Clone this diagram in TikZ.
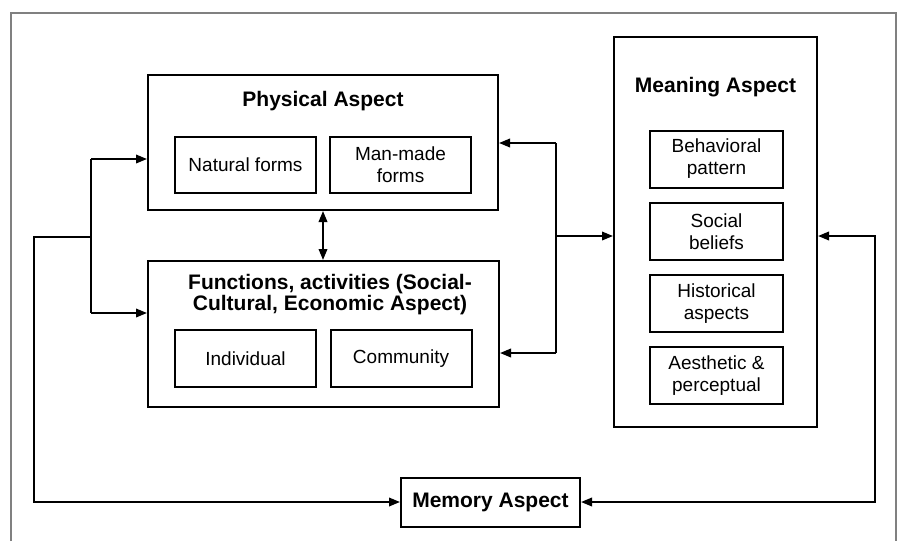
\documentclass[tikz,border=0pt]{standalone}
\usepackage{fontspec}
\setmainfont{Liberation Sans}
\usetikzlibrary{arrows.meta}
\begin{document}
\begin{tikzpicture}[x=1pt,y=-1pt,
  box/.style={draw, line width=2pt, inner sep=0pt},
  subbox/.style={box, font=\fontsize{19}{22}\selectfont, align=center},
  ttl/.style={font=\fontsize{21}{21}\selectfont\bfseries, align=center, inner sep=0pt},
  conn/.style={line width=2pt},
  arr/.style={conn, -{Triangle[length=11pt,width=8.5pt]}},
  darr/.style={conn, {Triangle[length=11pt,width=8.5pt]}-{Triangle[length=11pt,width=8.5pt]}}
]
\useasboundingbox (0,0) rectangle (901,541);
% outer frame
\draw[line width=1.4pt, color=black!50] (11,541) -- (11,13) -- (896,13) -- (896,541);

% Physical aspect
\node[box, minimum width=350pt, minimum height=135pt] (phys) at (323,142.5) {};
\node[ttl] (physT) at (323,101) {Physical Aspect};
\node[subbox, minimum width=141pt, minimum height=56pt] (nat) at (245.5,165) {Natural forms};
\node[subbox, minimum width=141pt, minimum height=56pt] (man) at (400.5,165) {Man-made\\forms};

% Functions
\node[box, minimum width=351pt, minimum height=146pt] (func) at (323.5,334) {};
\node[ttl] (funcT) at (330,295) {Functions, activities (Social-\\Cultural, Economic Aspect)};
\node[subbox, minimum width=141pt, minimum height=57pt] (ind) at (245.5,358.5) {Individual};
\node[subbox, minimum width=141pt, minimum height=57pt] (com) at (401,358.5) {Community};

% Meaning
\node[box, minimum width=203pt, minimum height=390pt] (mean) at (715.5,232) {};
\node[ttl] (meanT) at (715.5,87) {Meaning Aspect};
\node[subbox, minimum width=133pt, minimum height=57pt] (beh) at (716.5,159) {Behavioral\\pattern};
\node[subbox, minimum width=133pt, minimum height=57pt] (soc) at (716.5,231.5) {Social\\beliefs};
\node[subbox, minimum width=133pt, minimum height=57pt] (his) at (716.5,303.5) {Historical\\aspects};
\node[subbox, minimum width=133pt, minimum height=57pt] (aes) at (716.5,375.5) {Aesthetic \&\\perceptual};

% Memory
\node[box, minimum width=179pt, minimum height=49pt, font=\fontsize{21}{21}\selectfont\bfseries] (mem) at (490.5,502) {Memory Aspect};

% connectors left
\coordinate (L1) at (34,237);
\coordinate (L2) at (91,237);
\coordinate (L3) at (91,159);
\coordinate (L4) at (91,313);
\draw[arr] (L2) -- (L1) |- (mem.west);
\draw[conn] (L3) -- (L4);
\draw[arr] (L3) -- (L3 -| phys.west);
\draw[arr] (L4) -- (L4 -| func.west);

% connectors right
\coordinate (R1) at (556,143);
\coordinate (R2) at (556,353);
\coordinate (R3) at (556,236);
\draw[conn] (R1) -- (R2);
\draw[arr] (R1) -- (R1 -| phys.east);
\draw[arr] (R2) -- (R2 -| func.east);
\draw[arr] (R3) -- (R3 -| mean.west);

% far right loop
\coordinate (F2) at (875,236);
\draw[darr] (mem.east) -| (F2) -- (F2 -| mean.east);

% physical <-> functions
\draw[darr] (phys.south) -- (phys.south |- func.north);
\end{tikzpicture}
\end{document}
